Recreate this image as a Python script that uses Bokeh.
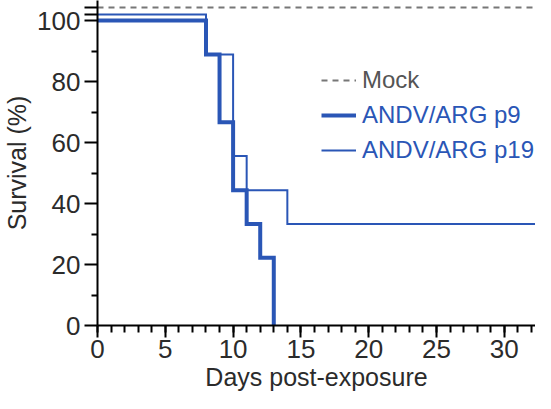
from bokeh.plotting import figure
from bokeh.models import (Range1d, FixedTicker, SingleIntervalTicker, Legend, LegendItem)
from bokeh.embed import file_html
from bokeh.resources import INLINE

# ---- data ----
p9_days = [0, 8, 9, 10, 11, 12, 13]
p9_surv = [100, 88.9, 66.7, 44.4, 33.3, 22.2, 0]
p19_days = [0, 8, 10, 11, 14, 35]
p19_surv = [102, 88.9, 55.6, 44.4, 33.3, 33.3]   # 100% drawn slightly offset (as in original)
mock_days = [0, 35]
mock_surv = [104.3, 104.3]                        # 100% drawn offset
y_ticks = [0, 20, 40, 60, 80, 100]
y_minor = [10, 30, 50, 70, 90]
series_names = ["Mock", "ANDV/ARG p9", "ANDV/ARG p19"]
x_title = "Days post-exposure"
y_title = "Survival (%)"

BLUE = "#2a56b6"
FONT = "Liberation Sans"
X0, X1 = 0, 32.3
Y0, Y1 = 0, 106.6

p = figure(width=535, height=393, output_backend="svg", toolbar_location=None,
           x_range=Range1d(X0, X1), y_range=Range1d(Y0, Y1),
           min_border_left=94, min_border_right=0, min_border_top=0, min_border_bottom=68)
p.outline_line_color = None
p.grid.visible = False
p.background_fill_color = None

r_mock = p.line(mock_days, mock_surv, line_color="#777777", line_width=2, line_dash="6 5")
r_p19 = p.step(p19_days, p19_surv, mode="after", line_color=BLUE, line_width=2, line_join="miter")
r_p9 = p.step(p9_days, p9_surv, mode="after", line_color=BLUE, line_width=4, line_join="miter")

# axes
yax = p.yaxis[0]
yax.ticker = FixedTicker(ticks=y_ticks + [102, 104.3], minor_ticks=y_minor)
yax.major_label_overrides = {102: "", 104.3: ""}
xax = p.xaxis[0]
xax.ticker = SingleIntervalTicker(interval=5, num_minor_ticks=5)
for ax in (xax, yax):
    ax.axis_line_color = "black"
    ax.axis_line_width = 2
    ax.major_tick_line_color = "black"
    ax.major_tick_line_width = 2
    ax.minor_tick_line_color = "black"
    ax.minor_tick_line_width = 2
    ax.major_tick_in = 0
    ax.minor_tick_in = 0
    ax.major_label_text_font = FONT
    ax.major_label_text_font_size = "26px"
    ax.major_label_text_color = "#2b2b2b"
    ax.axis_label_text_font = FONT
    ax.axis_label_text_font_size = "25px"
    ax.axis_label_text_font_style = "normal"
    ax.axis_label_text_color = "#2b2b2b"
yax.major_tick_out = 13
yax.minor_tick_out = 6
yax.major_label_standoff = 4
yax.axis_label = y_title
yax.axis_label_standoff = 3
xax.major_tick_out = 12
xax.minor_tick_out = 7
xax.major_label_standoff = 2
xax.axis_label = x_title
xax.axis_label_standoff = 2

def mk_legend(items, color, loc):
    lg = Legend(items=items, location=loc, glyph_width=35, glyph_height=28, label_height=28,
                label_standoff=6, padding=0, spacing=7, margin=0,
                border_line_color=None, background_fill_alpha=0,
                label_text_font=FONT, label_text_font_size="24px", label_text_color=color)
    return lg

leg_mock = mk_legend([LegendItem(label=series_names[0], renderers=[r_mock])], "#555555", (224, 231))
leg_blue = mk_legend([LegendItem(label=series_names[1], renderers=[r_p9]),
                      LegendItem(label=series_names[2], renderers=[r_p19])], BLUE, (224, 161))
p.add_layout(leg_mock, "center")
p.add_layout(leg_blue, "center")

open("out.html", "w").write(file_html(p, INLINE))
